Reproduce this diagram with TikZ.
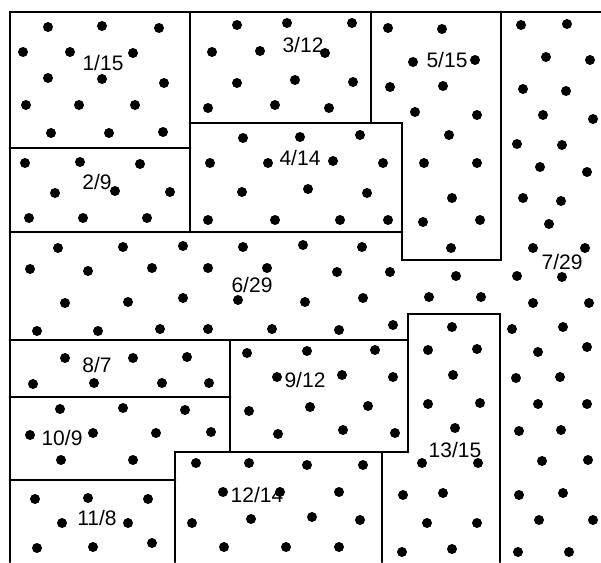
\documentclass[tikz,border=0pt]{standalone}
\usepackage{fontspec}
\setmainfont{Liberation Sans}
\begin{document}
\begin{tikzpicture}[x=1pt,y=-1pt,
  wall/.style={line width=2.9pt,line cap=round,line join=miter},
  dot/.style={fill=black},
  lbl/.style={font=\fontsize{21}{21}\selectfont,inner sep=1pt}]
\useasboundingbox (0,0) rectangle (601,562);
% walls
\draw[wall] (10,562) -- (10,12) -- (601,12);
\draw[wall] (190,12) -- (190,232);
\draw[wall] (10,148) -- (190,148);
\draw[wall] (371,12) -- (371,123);
\draw[wall] (190,123) -- (402,123) -- (402,260) -- (501,260) -- (501,12);
\draw[wall] (10,232) -- (402,232);
\draw[wall] (10,340) -- (408,340);
\draw[wall] (230,340) -- (230,452);
\draw[wall] (10,397) -- (230,397);
\draw[wall] (10,480) -- (175,480);
\draw[wall] (175,562) -- (175,452) -- (408,452);
\draw[wall] (408,452) -- (408,314) -- (500,314) -- (500,562);
\draw[wall] (382,452) -- (382,562);
% dots
\foreach \p in {
 (48,27),(102,26),(159,28),(23,52),(70,52),(133,53),(48,78),(102,79),(164,83),(26,105),(79,105),(135,105),(51,133),(109,133),(163,132),
 (25,163),(80,162),(140,164),(55,193),(115,191),(170,192),(29,218),(83,218),(147,218),
 (237,25),(287,23),(352,23),(212,52),(260,51),(325,53),(237,83),(295,80),(353,82),(208,108),(275,105),(329,108),
 (243,138),(300,137),(360,135),(210,163),(268,163),(333,161),(383,163),(242,192),(308,189),(367,193),(208,220),(275,220),(340,220),(388,220),
 (388,28),(442,29),(413,62),(475,60),(390,87),(443,86),(415,112),(477,115),(449,135),(424,163),(477,163),(452,198),(423,222),(480,220),(451,248),
 (58,248),(123,247),(183,246),(243,247),(303,245),(362,247),(30,269),(88,271),(152,268),(208,268),(267,268),(337,272),(390,272),(65,303),(128,302),(183,298),(238,300),(305,302),(363,298),(429,297),(481,297),(37,331),(98,331),(160,329),(208,329),(272,329),(339,330),(393,325),(456,276),
 (521,25),(567,24),(546,57),(590,60),(523,89),(566,91),(543,115),(593,119),(517,144),(562,145),(540,167),(587,172),(523,198),(561,201),(549,224),(533,248),(585,248),(517,276),(562,277),(533,303),(589,303),(512,329),(563,327),(538,352),(587,347),(516,378),(560,377),(538,404),(587,404),(519,431),(561,430),(542,461),(588,460),(519,495),(563,493),(539,520),(593,520),(518,552),(569,552),
 (65,358),(133,358),(187,357),(33,384),(94,383),(162,383),(209,383),
 (60,409),(123,408),(185,410),(30,435),(93,433),(156,433),(211,432),(61,460),(133,460),
 (35,499),(88,498),(148,499),(62,523),(128,523),(37,548),(93,547),(152,543),
 (247,353),(307,351),(375,350),(277,377),(342,375),(393,377),(249,411),(310,407),(368,406),(278,434),(343,430),(395,433),
 (196,463),(249,463),(307,465),(363,465),(223,492),(280,492),(339,492),(192,523),(251,519),(312,517),(360,520),(224,547),(286,547),(339,547),
 (452,327),(428,350),(477,349),(453,375),(428,404),(480,403),(455,428),(422,463),(478,463),(403,495),(443,493),(427,523),(477,523),(402,552),(452,549)}
  \fill[dot] \p circle[radius=5pt];
% labels
\node[lbl] (l1)  at (103,63)  {1/15};
\node[lbl] (l2)  at (97,182)  {2/9};
\node[lbl] (l3)  at (303,45)  {3/12};
\node[lbl] (l4)  at (300,158) {4/14};
\node[lbl] (l5)  at (447,60)  {5/15};
\node[lbl] (l6)  at (252,285) {6/29};
\node[lbl] (l7)  at (562,262) {7/29};
\node[lbl] (l8)  at (97,365)  {8/7};
\node[lbl] (l9)  at (305,380) {9/12};
\node[lbl] (l10) at (62,438)  {10/9};
\node[lbl] (l11) at (97,518)  {11/8};
\node[lbl] (l12) at (257,495) {12/14};
\node[lbl] (l13) at (455,450) {13/15};
\end{tikzpicture}
\end{document}
